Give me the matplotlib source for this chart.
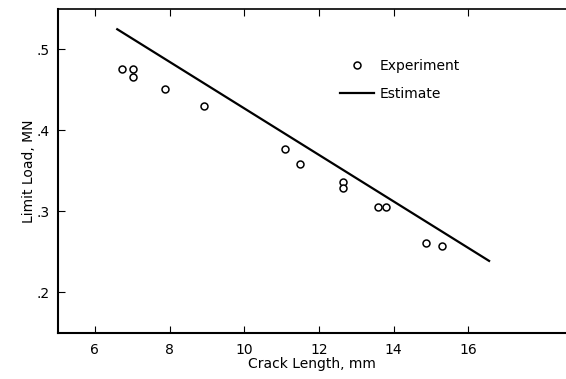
import matplotlib.pyplot as plt
from matplotlib.ticker import FuncFormatter

plt.rcParams['font.family'] = ['Liberation Sans Narrow', 'DejaVu Sans']

# experiment points
crack_exp = [6.74, 7.02, 7.02, 7.87, 8.93, 11.09, 11.49, 12.66, 12.66, 13.58, 13.79, 14.86, 15.29]
load_exp = [0.476, 0.476, 0.466, 0.451, 0.430, 0.377, 0.359, 0.337, 0.329, 0.306, 0.306, 0.261, 0.258]

# estimate line
crack_est = [6.6, 16.56]
load_est = [0.525, 0.239]

fig = plt.figure(figsize=(5.66, 3.79), dpi=100)
ax = fig.add_axes([0.1016, 0.1214, 0.8984, 0.8549])

ax.plot(crack_exp, load_exp, 'o', mfc='white', mec='black', ms=5, mew=1.1,
        label='Experiment')
ax.plot(crack_est, load_est, '-', color='black', lw=1.6, label='Estimate')

ax.set_xlim(5, 18.62)
ax.set_ylim(0.15, 0.55)
ax.set_xticks([6, 8, 10, 12, 14, 16])
ax.set_yticks([0.2, 0.3, 0.4, 0.5])
ax.yaxis.set_major_formatter(FuncFormatter(lambda v, p: ('%.1f' % v).lstrip('0')))
ax.tick_params(direction='in', length=5, width=0.8, labelsize=10, top=True)
ax.tick_params(axis='x', pad=7)
ax.tick_params(axis='y', pad=6)

ax.spines['right'].set_visible(False)
ax.spines['left'].set_linewidth(1.5)
ax.spines['bottom'].set_linewidth(1.5)
ax.spines['top'].set_linewidth(1.2)

ax.set_xlabel('Crack Length, mm', fontsize=10, labelpad=0)
ax.set_ylabel('Limit Load, MN', fontsize=10, labelpad=0)

ax.legend(frameon=False, loc='upper left', bbox_to_anchor=(0.555, 0.845),
          handlelength=2.45, handletextpad=0.4, labelspacing=1.0, fontsize=10,
          borderpad=0, borderaxespad=0)

fig.savefig('out.png', dpi=100)
